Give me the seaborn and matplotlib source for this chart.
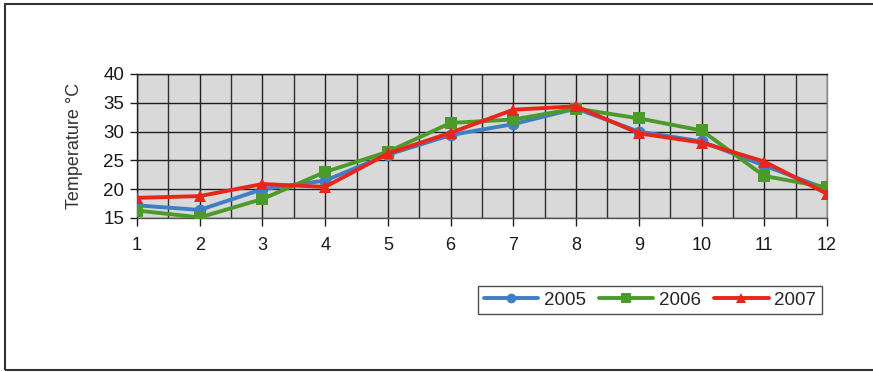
import matplotlib
matplotlib.use("Agg")
import matplotlib.pyplot as plt
from matplotlib.patches import Rectangle
from matplotlib.ticker import MultipleLocator
import pandas as pd
import seaborn as sns

# Monthly mean temperatures (°C)
months = list(range(1, 13))
years = ["2005", "2006", "2007"]
temp_2005 = [17.2, 16.4, 20.0, 21.5, 26.0, 29.4, 31.3, 34.0, 30.0, 28.3, 24.1, 20.0]
temp_2006 = [16.3, 15.1, 18.3, 23.0, 26.5, 31.5, 32.1, 34.0, 32.3, 30.2, 22.3, 20.3]
temp_2007 = [18.5, 18.8, 20.9, 20.4, 26.2, 29.8, 33.8, 34.4, 29.7, 28.1, 24.8, 19.2]
y_ticks = [15, 20, 25, 30, 35, 40]

df = pd.DataFrame({
    "month": months * 3,
    "temp": temp_2005 + temp_2006 + temp_2007,
    "year": sum([[y] * len(months) for y in years], []),
})

sns.set_theme(style="white")
plt.rcParams["font.family"] = ["Liberation Sans", "DejaVu Sans"]

palette = {"2005": "#3f7fc6", "2006": "#4c9a2a", "2007": "#e8261c"}
markers = {"2005": "o", "2006": "s", "2007": "^"}

fig = plt.figure(figsize=(8.73, 3.72), dpi=100)
ax = fig.add_axes([137 / 873, 1 - 218 / 372, (827 - 137) / 873, (218 - 74) / 372])

sns.lineplot(data=df, x="month", y="temp", hue="year", style="year",
             palette=palette, markers=markers, dashes=False,
             linewidth=2.8, markersize=8.5, markeredgewidth=0,
             ax=ax, legend=True, zorder=3)

ax.set_facecolor("#d9d9d9")
ax.set_xlim(1, 12)
ax.set_ylim(15, 40)
ax.set_xticks(months)
ax.set_yticks(y_ticks)
ax.xaxis.set_minor_locator(MultipleLocator(0.5))
ax.grid(True, which="major", axis="both", color="#202020", linewidth=1.0)
ax.grid(True, which="minor", axis="x", color="#303030", linewidth=1.0)
ax.tick_params(axis="x", which="major", direction="out", length=6, width=1,
               color="#202020", labelsize=13, pad=8, bottom=True)
ax.tick_params(axis="x", which="minor", length=0)
ax.tick_params(axis="y", direction="out", length=5, width=1, color="#202020",
               labelsize=13.5, pad=4, left=True)
for lbl in ax.get_xticklabels() + ax.get_yticklabels():
    lbl.set_color("#1a1a1a")
ax.set_xlabel("")
ax.set_ylabel("Temperature °C", fontsize=13, color="#333333", labelpad=15)

for side, col in [("left", "#202020"), ("bottom", "#555555"),
                  ("top", "#202020"), ("right", "#888888")]:
    ax.spines[side].set_visible(True)
    ax.spines[side].set_color(col)
    ax.spines[side].set_linewidth(1.0)

handles, labels = ax.get_legend_handles_labels()
for h in handles:
    h.set_markersize(7)
leg = fig.legend(handles, labels, loc="center", bbox_to_anchor=(650 / 873, 1 - 300 / 372),
                 ncol=3, frameon=True, fancybox=False, fontsize=13.5,
                 handlelength=2.9, handletextpad=0.3, columnspacing=0.7,
                 borderpad=0.3, edgecolor="#222222")
leg.get_frame().set_linewidth(1.0)
if ax.get_legend():
    ax.get_legend().remove()

# outer frame around the whole chart
fig.patches.append(Rectangle((5 / 873, 2 / 372), 1.0, 366 / 372, transform=fig.transFigure,
                             fill=False, edgecolor="#333333", linewidth=1.5))

fig.savefig("out.png", dpi=100)
